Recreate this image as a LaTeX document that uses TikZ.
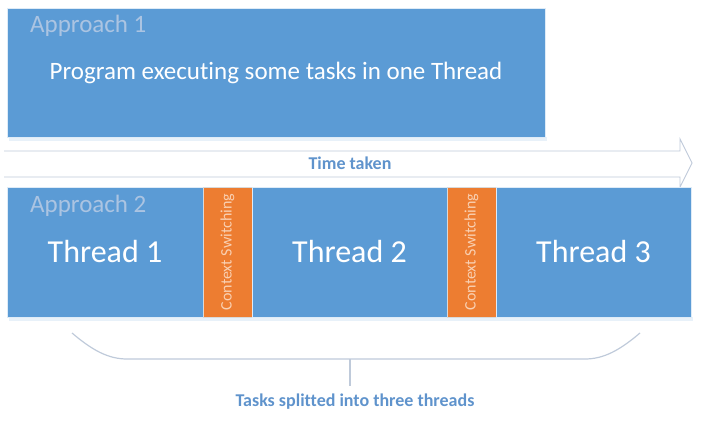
\documentclass[tikz,border=0pt]{standalone}
\usepackage{fontspec}
\setmainfont[Ligatures=NoCommon]{Carlito}
\usetikzlibrary{positioning}
\begin{document}
\begin{tikzpicture}[x=1pt, y=-1pt,
  block/.style={fill=boxblue, draw=white!80!boxblue, line width=0.6pt, inner sep=0pt, outer sep=0pt, text=white, font=\fontsize{32}{36}\selectfont},
  barblock/.style={block, minimum height=130pt},
  switchbox/.style={barblock, fill=switchorange, draw=white!70!gray, minimum width=49pt},
  approach/.style={inner sep=0pt, anchor=north west, text=approachgrey, font=\fontsize{25}{28}\selectfont},
  switchtext/.style={rotate=90, inner sep=0pt, text=switchtextcol, font=\fontsize{16}{18}\selectfont},
  caption/.style={inner sep=0pt, text=captionblue, font=\bfseries\fontsize{18}{20}\selectfont},
  guide/.style={draw=guidegrey, line width=1.2pt}]
\definecolor{boxblue}{HTML}{5B9BD5}
\definecolor{switchorange}{HTML}{ED7D31}
\definecolor{approachgrey}{HTML}{ABC4E2}
\definecolor{switchtextcol}{HTML}{F9D0B2}
\definecolor{captionblue}{HTML}{5F93CC}
\definecolor{guidegrey}{HTML}{BFCADA}
\useasboundingbox (0,0) rectangle (721,422);
% soft shadows
\fill[boxblue!14] (9,137) rectangle (547,141);
\fill[boxblue!14] (9,317) rectangle (693,321);
% approach 1
\node[block, anchor=north west, minimum width=538pt, minimum height=129pt, font=\fontsize{25}{28}\selectfont] (approachone) at (7,8) {Program executing some tasks in one Thread};
\node[approach] (labone) at ([xshift=23pt, yshift=-7pt]approachone.north west) {Approach 1};
% time arrow
\draw[guide, line width=0.9pt, fill=white] (4,151) -- (680,151) -- (680,139) -- (692,163) -- (680,187) -- (680,177) -- (4,177);
\node[caption] (timetaken) at (350,163) {Time taken};
% approach 2
\node[barblock, anchor=north west, minimum width=196pt] (threadone) at (7,187) {Thread 1};
\node[switchbox, right=0pt of threadone] (swone) {};
\node[barblock, minimum width=195pt, right=0pt of swone] (threadtwo) {Thread 2};
\node[switchbox, right=0pt of threadtwo] (swtwo) {};
\node[barblock, minimum width=195pt, right=0pt of swtwo] (threadthree) {Thread 3};
\node[switchtext] (swonetext) at (swone) {Context Switching};
\node[switchtext] (swtwotext) at (swtwo) {Context Switching};
\node[approach] (labtwo) at ([xshift=23pt, yshift=-8pt]threadone.north west) {Approach 2};
% brace
\coordinate (braceleft) at (72,333);
\coordinate (bracemid) at (350,359);
\coordinate (braceright) at (640,333);
\node[caption] (tasks) at (355,402) {Tasks splitted into three threads};
\draw[guide] (braceleft) .. controls (92,350) and (108,359) .. (127,359) -- (585,359) .. controls (604,359) and (620,350) .. (braceright);
\draw[guide, shorten >=8pt] (bracemid) -- (bracemid |- tasks.north);
\end{tikzpicture}
\end{document}
